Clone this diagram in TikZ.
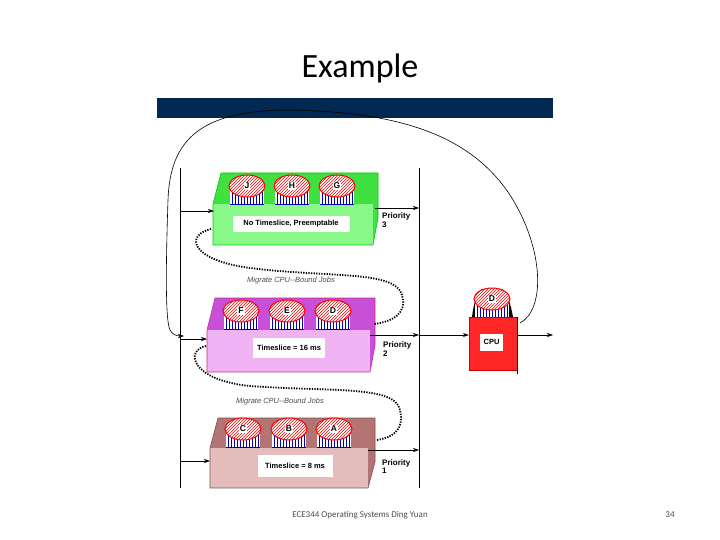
\documentclass[tikz,border=0pt]{standalone}
\usepackage{fontspec}
\setmainfont{Carlito}
\newfontfamily\arial{Liberation Sans}
\usetikzlibrary{patterns,arrows.meta}
\definecolor{navy}{HTML}{002850}
\definecolor{gback}{HTML}{40E040}
\definecolor{gfront}{HTML}{88F888}
\definecolor{mback}{HTML}{C850D8}
\definecolor{mfront}{HTML}{F0B4F4}
\definecolor{bback}{HTML}{B47474}
\definecolor{bfront}{HTML}{E4BCBC}
\begin{document}
\begin{tikzpicture}[x=1pt,y=-1pt,
  arr/.style={-{Stealth[length=6pt,width=4pt]},line width=0.6pt},
  dots/.style={line width=1.8pt,dash pattern=on 1.3pt off 1.3pt},
  lbl/.style={fill=white,inner sep=2pt,font=\arial\bfseries\fontsize{7.5}{8}\selectfont},
  pri/.style={font=\arial\bfseries\fontsize{8}{8.5}\selectfont,align=left,anchor=north west,inner sep=0pt},
  mig/.style={font=\arial\itshape\fontsize{7.5}{8}\selectfont,text=black!70},
  job/.pic={
    \fill[white] (-17,2) rectangle (17,18);
    \foreach \i in {-15,-12,...,15} \draw[blue!70!black,line width=0.8pt] (\i,4) -- (\i,18);
    \draw[blue!70!black,line width=0.6pt] (-17,18) -- (17,18);
    \fill[white] (0,0) ellipse (18 and 11);
    \fill[pattern=north east lines,pattern color=red] (0,0) ellipse (18 and 11);
    \draw[red,line width=1pt] (0,0) ellipse (18 and 11);
    \node[fill=white,inner sep=1pt,font=\arial\bfseries\fontsize{8.5}{9}\selectfont] {\tikzpictext};
  }]
\useasboundingbox (0,0) rectangle (720,540);
\node (title) at (360,68) {\fontsize{34}{36}\selectfont Example};
\fill[navy] (157,98) rectangle (553,118);
% vertical lines
\coordinate (L1) at (180,168); \coordinate (L2) at (180,488);
\coordinate (R1) at (419,168); \coordinate (R2) at (419,488);
\draw[line width=0.6pt] (L1) -- (L2);
\draw[line width=0.6pt] (R1) -- (R2);
% green queue
\fill[gback] (221,173) -- (378,173) -- (378,218) -- (373,245) -- (373,204) -- (213,204) -- cycle;
\fill[gfront] (213,204) rectangle (373,245);
\draw[green!80!black,line width=0.6pt] (221,173) -- (378,173) -- (378,218) -- (373,245) -- (213,245) -- (213,204) -- (221,173);
\pic[pic text=J] at (247,186) {job};
\pic[pic text=H] at (292,186) {job};
\pic[pic text=G] at (337,186) {job};
\node[lbl,minimum width=117pt,minimum height=16pt] (q3) at (291,224) {No Timeslice, Preemptable};
\node[pri] (p3) at (382,213) {Priority\\3};
\coordinate (a3) at (180,211); \coordinate (b3) at (214,211);
\draw[arr] (a3) -- (b3);
\coordinate (c3) at (375,208); \coordinate (d3) at (419,208);
\draw[arr] (c3) -- (d3);
% magenta queue
\fill[mback] (215,298) -- (375,298) -- (375,345) -- (370,372) -- (370,330) -- (207,330) -- cycle;
\fill[mfront] (207,330) rectangle (370,372);
\draw[magenta!80!black,line width=0.6pt] (215,298) -- (375,298) -- (375,345) -- (370,372) -- (207,372) -- (207,330) -- (215,298);
\pic[pic text=F] at (241,311) {job};
\pic[pic text=E] at (287,311) {job};
\pic[pic text=D] at (333,311) {job};
\node[lbl,minimum width=72pt,minimum height=20pt] (q2) at (289,348) {Timeslice = 16 ms};
\node[pri] (p2) at (383,342) {Priority\\2};
\coordinate (a2) at (180,339); \coordinate (b2) at (207,339);
\draw[arr] (a2) -- (b2);
\coordinate (c2) at (370,335); \coordinate (d2) at (419,335);
\draw[arr] (c2) -- (d2);
% brown queue
\fill[bback] (218,418) -- (375,418) -- (375,462) -- (368,488) -- (368,448) -- (210,448) -- cycle;
\fill[bfront] (210,448) rectangle (368,488);
\draw[bback!70!black,line width=0.6pt] (218,418) -- (375,418) -- (375,462) -- (368,488) -- (210,488) -- (210,448) -- (218,418);
\pic[pic text=C] at (243,429) {job};
\pic[pic text=B] at (289,429) {job};
\pic[pic text=A] at (334,429) {job};
\node[lbl,minimum width=75pt,minimum height=22pt] (q1) at (295,466) {Timeslice = 8 ms};
\node[pri] (p1) at (382,459) {Priority\\1};
\coordinate (a1) at (180,461); \coordinate (b1) at (210,461);
\draw[arr] (a1) -- (b1);
\coordinate (c1) at (368,450); \coordinate (d1) at (419,450);
\draw[arr] (c1) -- (d1);
% migrate curves
\coordinate (m1s) at (211,229); \coordinate (m1e) at (374,324);
\draw[dots] (m1s) .. controls (185,235) and (190,260) .. (250,268)
  .. controls (330,278) and (395,270) .. (402,295) .. controls (408,315) and (390,322) .. (m1e);
\node[mig] (mt1) at (291,281) {Migrate CPU--Bound Jobs};
\coordinate (m2s) at (206,346); \coordinate (m2e) at (377,440);
\draw[dots] (m2s) .. controls (185,350) and (190,380) .. (250,386)
  .. controls (330,392) and (395,385) .. (400,410) .. controls (405,432) and (390,438) .. (m2e);
\node[mig] (mt2) at (280,402) {Migrate CPU--Bound Jobs};
% CPU
\fill[black] (472,317) .. controls (474,300) and (478,292) .. (482,289) -- (502,289) .. controls (506,292) and (510,300) .. (513,317) -- cycle;
\pic[pic text=D] at (492,299) {job};
\node[draw=red!80!black,fill=red!85!white,minimum width=48pt,minimum height=53pt,inner sep=0pt] (cpu) at (493,343.5) {};
\node[lbl,minimum width=23pt,minimum height=17pt,inner sep=0pt] (cpul) at (491.5,342) {CPU};
\coordinate (k1) at (517,317); \coordinate (k2) at (517,374);
\draw[line width=0.6pt] (k1) -- (k2);
\coordinate (ci) at (419,335); \coordinate (co) at (553,335);
\draw[arr] (ci) -- (cpu.west |- ci);
\draw[arr] (cpu.east |- co) -- (co);
% feedback curve
\coordinate (fb) at (520,323); \coordinate (fe) at (184,336);
\draw[arr] (fb) .. controls (545,310) and (545,250) .. (510,195)
  .. controls (470,135) and (400,112) .. (290,110)
  .. controls (200,110) and (170,140) .. (168,200)
  .. controls (166,260) and (165,320) .. (170,330)
  .. controls (172,334) and (176,336) .. (fe);
% footer
\node[text=black!70,font=\fontsize{9}{10}\selectfont] (foot) at (360,515) {ECE344 Operating Systems Ding Yuan};
\node[text=black!70,font=\fontsize{9}{10}\selectfont] (num) at (670,515) {34};
\end{tikzpicture}
\end{document}
